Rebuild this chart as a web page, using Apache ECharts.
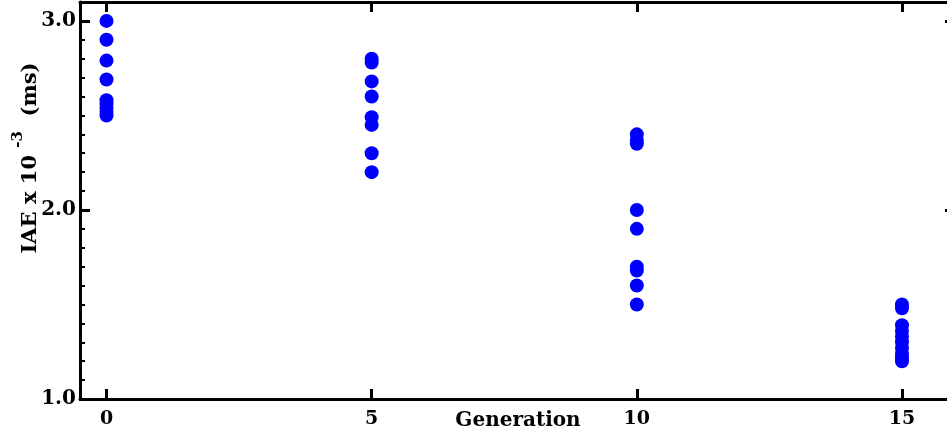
<!DOCTYPE html>
<html>
<head>
<meta charset="utf-8">
<script src="https://cdn.jsdelivr.net/npm/echarts@6/dist/echarts.min.js"></script>
<style>
html,body{margin:0;padding:0;background:#fff;}
#chart{width:947px;height:437px;}
</style>
</head>
<body>
<div id="chart"></div>
<script>
// Data
var generations = [0, 5, 10, 15];
var gen0Values = [3.00, 2.90, 2.79, 2.69, 2.58, 2.56, 2.54, 2.52, 2.50];
var gen5Values = [2.80, 2.78, 2.68, 2.60, 2.49, 2.45, 2.30, 2.20];
var gen10Values = [2.40, 2.37, 2.35, 2.00, 1.90, 1.70, 1.68, 1.60, 1.50];
var gen15Values = [1.50, 1.48, 1.39, 1.36, 1.33, 1.30, 1.27, 1.24, 1.22, 1.20];
var xTickValues = [0, 5, 10, 15];
var yTickValues = [1, 2, 3];
var xTitle = 'Generation';

var allValues = [gen0Values, gen5Values, gen10Values, gen15Values];
var points = [];
for (var g = 0; g < generations.length; g++) {
  for (var k = 0; k < allValues[g].length; k++) {
    points.push([generations[g], allValues[g][k]]);
  }
}

var FONT = '"DejaVu Serif", "Liberation Serif", serif';
var axisLineStyle = {color: '#000', width: 3};

var chart = echarts.init(document.getElementById('chart'), null, {renderer: 'canvas'});
chart.setOption({
  animation: false,
  backgroundColor: '#fff',
  grid: {left: 80, top: 2, width: 875, height: 397, containLabel: false, outerBoundsMode: 'none'},
  xAxis: [
    {
      type: 'value', position: 'bottom', min: -0.5, max: 16,
      axisLine: {show: true, onZero: false, lineStyle: axisLineStyle},
      axisTick: {show: true, inside: true, length: 10, customValues: xTickValues, lineStyle: {color: '#000', width: 3}},
      axisLabel: {show: true, customValues: xTickValues, margin: 11, color: '#000', fontFamily: FONT, fontWeight: 'bold', fontSize: 19},
      splitLine: {show: false}
    },
    {
      type: 'value', position: 'top', min: -0.5, max: 16,
      axisLine: {show: true, onZero: false, lineStyle: axisLineStyle},
      axisTick: {show: true, inside: true, length: 10, customValues: xTickValues, lineStyle: {color: '#000', width: 3}},
      axisLabel: {show: false},
      splitLine: {show: false}
    }
  ],
  yAxis: [
    {
      type: 'value', position: 'left', min: 1, max: 3.1,
      axisLine: {show: true, onZero: false, lineStyle: axisLineStyle},
      axisTick: {show: true, inside: true, length: 10, customValues: yTickValues, lineStyle: {color: '#000', width: 3}},
      axisLabel: {show: true, customValues: yTickValues, margin: 4, color: '#000', fontFamily: FONT, fontWeight: 'bold', fontSize: 20,
        formatter: function (v) { return v.toFixed(1); }},
      splitLine: {show: false}
    },
    {
      type: 'value', position: 'left', min: 1, max: 3.1, interval: 0.1,
      axisLine: {show: false, onZero: false},
      axisTick: {show: true, inside: true, length: 5, lineStyle: {color: '#000', width: 2}},
      axisLabel: {show: false},
      splitLine: {show: false}
    },
    {
      type: 'value', position: 'right', min: 1, max: 3.1,
      axisLine: {show: true, onZero: false, lineStyle: axisLineStyle},
      axisTick: {show: true, inside: true, length: 10, customValues: yTickValues, lineStyle: {color: '#000', width: 3}},
      axisLabel: {show: false},
      splitLine: {show: false}
    }
  ],
  series: [{
    type: 'scatter',
    xAxisIndex: 0, yAxisIndex: 0,
    data: points,
    symbol: 'circle',
    symbolSize: 14,
    itemStyle: {color: '#0000ff', opacity: 1}
  }],
  graphic: [
    {
      type: 'text', x: 518, y: 421,
      style: {text: xTitle, fill: '#000', font: 'bold 20px ' + FONT, textAlign: 'center', textVerticalAlign: 'middle'}
    },
    {
      type: 'text', x: 26, y: 158, rotation: Math.PI / 2,
      style: {
        text: '{a|IAE x 10 }{s|-3}{a|  (ms)}',
        fill: '#000',
        font: 'bold 21px ' + FONT,
        textAlign: 'center', textVerticalAlign: 'middle',
        rich: {
          a: {fontFamily: FONT, fontWeight: 'bold', fontSize: 21, lineHeight: 30, fill: '#000', verticalAlign: 'bottom'},
          s: {fontFamily: FONT, fontWeight: 'bold', fontSize: 15, lineHeight: 30, fill: '#000', verticalAlign: 'top'}
        }
      }
    }
  ]
});
</script>
</body>
</html>
